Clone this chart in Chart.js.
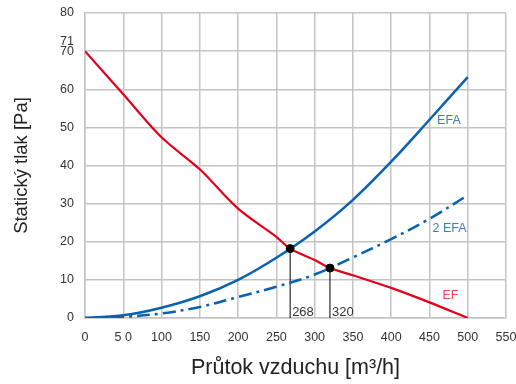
<!DOCTYPE html>
<html>
<head>
<meta charset="utf-8">
<script src="https://cdn.jsdelivr.net/npm/chart.js@4"></script>
<style>
  html, body { margin: 0; padding: 0; background: #fff; }
  #wrap { width: 516px; height: 384px; }
</style>
</head>
<body>
<div id="wrap"><canvas id="fanChart" width="516" height="384"></canvas></div>
<script>
// flow values [m3/h]
const flow = [0, 50, 100, 150, 200, 250, 300, 350, 400, 450, 500];
const efFlow = [0, 50, 100, 150, 200, 250, 268, 300, 320, 350, 400, 450, 500];
// static pressure curves [Pa]
const efValues   = [70, 58.7, 47.4, 39, 28.7, 21.3, 18.2, 15.2, 13.1, 11.2, 7.9, 4.1, 0];
const efaValues  = [0, 0.7, 2.7, 5.7, 10, 15.8, 22.7, 31, 41, 52, 63.2];
const efa2Values = [0, 0.3, 1.2, 2.9, 5.5, 8.2, 11.4, 15.9, 20.7, 26, 32.2];
// operating points
const opFlow = [268, 320];
const opPressure = [18.2, 13.1];
// axis ticks
const xTicks = [0, 50, 100, 150, 200, 250, 300, 350, 400, 450, 500, 550];
const xTickLabels = ['0', '5 0', '100', '150', '200', '250', '300', '350', '400', '450', '500', '550'];
const yTicks = [0, 10, 20, 30, 40, 50, 60, 70, 72.5, 80];
const yTickLabels = ['0', '10', '20', '30', '40', '50', '60', '70', '71', '80'];
// curve labels (left edge, vertical centre)
const curveLabels = [
    { text: 'EFA', x: 460, y: 51.8, color: '#3b7dc2' },
    { text: '2 EFA', x: 454, y: 23.4, color: '#3b7dc2' },
    { text: 'EF', x: 467, y: 6, color: '#ea4650' }
];

const RED = '#e2001a';
const BLUE = '#0a61b0';
const FONT = '"Liberation Sans", Arial, sans-serif';

function pts(xs, ys) {
    return xs.map((x, i) => ({ x: x, y: ys[i] }));
}

const dropLines = opFlow.map((f, i) => ({
    type: 'line',
    data: [{ x: f, y: 0 }, { x: f, y: opPressure[i] }],
    borderColor: '#000',
    borderWidth: 1,
    pointRadius: 0,
    order: 5
}));

// text labels for curves and operating points
const textPlugin = {
    id: 'textLabels',
    afterDatasetsDraw(chart) {
        const ctx = chart.ctx;
        const xs = chart.scales.x;
        const ys = chart.scales.y;
        ctx.save();
        ctx.font = '12.5px ' + FONT;
        ctx.textBaseline = 'middle';
        ctx.textAlign = 'left';
        curveLabels.forEach(l => {
            ctx.fillStyle = l.color;
            ctx.fillText(l.text, xs.getPixelForValue(l.x), ys.getPixelForValue(l.y));
        });
        ctx.fillStyle = '#333';
        ctx.font = '13px ' + FONT;
        opFlow.forEach(f => {
            ctx.fillText(String(f), xs.getPixelForValue(f) + 2, ys.getPixelForValue(0) - 6);
        });
        ctx.restore();
    }
};

new Chart(document.getElementById('fanChart'), {
    type: 'line',
    data: {
        datasets: [
            {
                data: pts(efFlow, efValues),
                borderColor: RED,
                borderWidth: 2.2,
                pointRadius: 0,
                tension: 0.3,
                order: 2
            },
            {
                data: pts(flow, efaValues),
                borderColor: BLUE,
                borderWidth: 2.5,
                pointRadius: 0,
                tension: 0.35,
                order: 3
            },
            {
                data: pts(flow, efa2Values),
                borderColor: BLUE,
                borderWidth: 2.5,
                borderDash: [13, 5, 3, 5],
                pointRadius: 0,
                tension: 0.35,
                order: 4
            },
            ...dropLines,
            {
                type: 'scatter',
                data: pts(opFlow, opPressure),
                backgroundColor: '#000',
                borderColor: '#000',
                pointRadius: 4,
                order: 1
            }
        ]
    },
    options: {
        responsive: false,
        animation: false,
        layout: { padding: { top: 0, right: 10, bottom: 0, left: 0 } },
        plugins: {
            legend: { display: false },
            tooltip: { enabled: false }
        },
        scales: {
            x: {
                type: 'linear',
                min: 0,
                max: 550,
                afterBuildTicks: axis => { axis.ticks = xTicks.map(v => ({ value: v })); },
                afterFit: axis => {
                    axis.height = 66;
                    axis.paddingLeft = 0;
                    axis.paddingRight = 0;
                },
                ticks: {
                    color: '#333',
                    font: { family: FONT, size: 12.5 },
                    padding: 12,
                    maxRotation: 0,
                    callback: (v) => xTickLabels[xTicks.indexOf(v)]
                },
                grid: { color: '#c4c4c4', lineWidth: 1.5, drawTicks: false },
                border: { color: '#c4c4c4', width: 1.5 },
                title: {
                    display: true,
                    text: 'Průtok vzduchu [m³/h]',
                    color: '#222',
                    font: { family: FONT, size: 21.5 },
                    padding: { top: 0, bottom: 3 }
                }
            },
            y: {
                min: 0,
                max: 80,
                afterBuildTicks: axis => { axis.ticks = yTicks.map(v => ({ value: v })); },
                afterFit: axis => {
                    axis.width = 85;
                    axis.paddingTop = 13;
                    axis.paddingBottom = 0;
                },
                ticks: {
                    color: '#333',
                    font: { family: FONT, size: 12.5 },
                    padding: 11,
                    callback: (v) => yTickLabels[yTicks.indexOf(v)]
                },
                grid: {
                    color: c => (c.tick && c.tick.value === 72.5) ? 'rgba(0,0,0,0)' : '#c4c4c4',
                    lineWidth: 1.5,
                    drawTicks: false
                },
                border: { color: '#c4c4c4', width: 1.5 },
                title: {
                    display: true,
                    text: 'Statický tlak [Pa]',
                    color: '#222',
                    font: { family: FONT, size: 18.5 },
                    padding: { top: 11, bottom: 0 }
                }
            }
        }
    },
    plugins: [textPlugin]
});
</script>
</body>
</html>
